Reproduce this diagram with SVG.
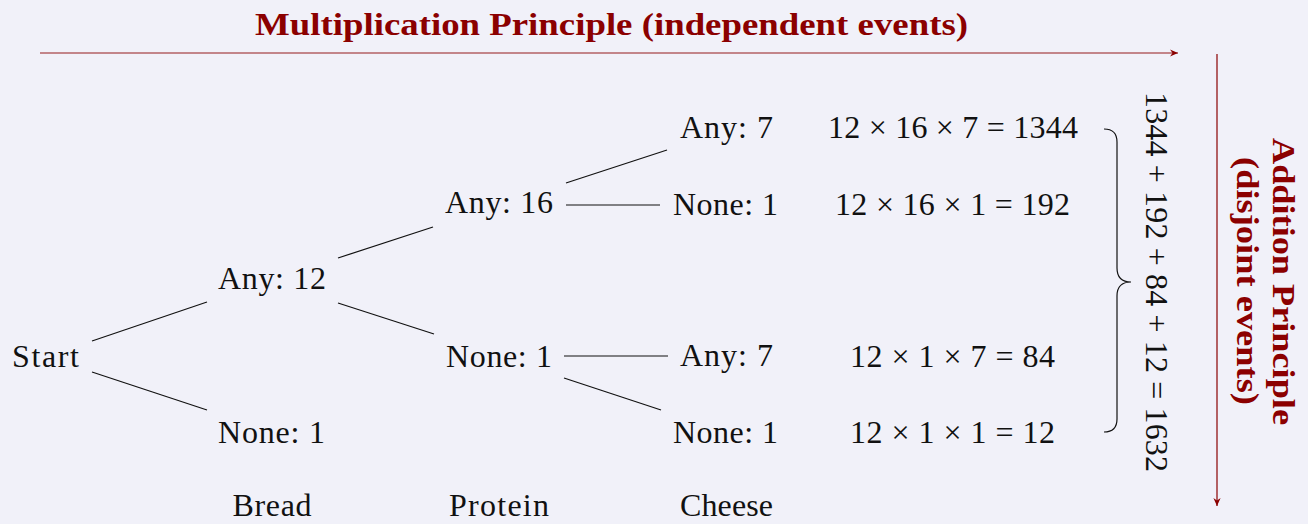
<svg xmlns="http://www.w3.org/2000/svg" width="1308" height="524" viewBox="0 0 1308 524">
<style>
  .t { font-family: "Liberation Serif", "Times New Roman", serif; font-size: 32px; fill: #111; text-anchor: middle; }
  .h { font-family: "Liberation Serif", "Times New Roman", serif; font-size: 31px; font-weight: bold; fill: #8b0000; text-anchor: middle; }
  .e { stroke: #111; stroke-width: 1.2; fill: none; }
</style>
<defs>
  <marker id="ah" viewBox="-9 -5 10 10" refX="0" refY="0" markerWidth="10" markerHeight="10" markerUnits="userSpaceOnUse" orient="auto">
    <path d="M0,0 L-8,-3.6 L-5.5,0 L-8,3.6 Z" fill="#8b0000"/>
  </marker>
</defs>
<rect x="0" y="0" width="1308" height="524" fill="#f1f1f9"/>

<g id="mult-principle">
  <line x1="40" y1="53" x2="1178" y2="53" stroke="#8b0000" stroke-opacity="0.6" stroke-width="1.6" marker-end="url(#ah)"/>
  <text class="h" x="611.5" y="35" textLength="713" lengthAdjust="spacingAndGlyphs">Multiplication Principle (independent events)</text>
</g>

<g id="add-principle">
  <line x1="1217" y1="54" x2="1217" y2="506" stroke="#8b0000" stroke-width="1.2" marker-end="url(#ah)"/>
  <text class="h" transform="translate(1273,281.5) rotate(90)" textLength="287" lengthAdjust="spacingAndGlyphs">Addition Principle</text>
  <text class="h" transform="translate(1237,281) rotate(90)" textLength="248" lengthAdjust="spacingAndGlyphs">(disjoint events)</text>
</g>

<g id="connectors">
  <line class="e" x1="92" y1="341" x2="207" y2="302"/>
  <line class="e" x1="92" y1="372" x2="207" y2="410"/>
  <line class="e" x1="338" y1="258" x2="433" y2="227"/>
  <line class="e" x1="338" y1="303" x2="434" y2="334"/>
  <line class="e" x1="566" y1="183" x2="667" y2="150"/>
  <line class="e" x1="566" y1="205" x2="660" y2="205"/>
  <line class="e" x1="564" y1="356" x2="668" y2="356"/>
  <line class="e" x1="564" y1="378" x2="661" y2="410"/>
</g>

<g id="start"><text class="t" x="45.5" y="367" textLength="67" lengthAdjust="spacing">Start</text></g>
<g id="bread-any"><text class="t" x="272" y="289" textLength="108" lengthAdjust="spacing">Any: 12</text></g>
<g id="bread-none"><text class="t" x="271.5" y="443" textLength="107" lengthAdjust="spacing">None: 1</text></g>
<g id="protein-any"><text class="t" x="499" y="213" textLength="108" lengthAdjust="spacing">Any: 16</text></g>
<g id="protein-none"><text class="t" x="499" y="367" textLength="106" lengthAdjust="spacing">None: 1</text></g>
<g id="cheese-any-1"><text class="t" x="726.5" y="138" textLength="93" lengthAdjust="spacing">Any: 7</text></g>
<g id="cheese-none-1"><text class="t" x="725.5" y="215" textLength="105" lengthAdjust="spacing">None: 1</text></g>
<g id="cheese-any-2"><text class="t" x="726.5" y="366" textLength="93" lengthAdjust="spacing">Any: 7</text></g>
<g id="cheese-none-2"><text class="t" x="725.5" y="443" textLength="105" lengthAdjust="spacing">None: 1</text></g>

<g id="products">
  <text class="t" x="953" y="138" textLength="250" lengthAdjust="spacing">12 × 16 × 7 = 1344</text>
  <text class="t" x="952.5" y="215" textLength="235" lengthAdjust="spacing">12 × 16 × 1 = 192</text>
  <text class="t" x="952.5" y="367" textLength="205" lengthAdjust="spacing">12 × 1 × 7 = 84</text>
  <text class="t" x="952.5" y="443" textLength="205" lengthAdjust="spacing">12 × 1 × 1 = 12</text>
</g>

<g id="sum">
  <path class="e" d="M1104,129 Q1117,129 1117,142 L1117,268 Q1117,282 1131,282 Q1117,282 1117,296 L1117,419 Q1117,432 1104,432"/>
  <text class="t" transform="translate(1146,282) rotate(90)" textLength="380" lengthAdjust="spacing">1344 + 192 + 84 + 12 = 1632</text>
</g>

<g id="labels">
  <text class="t" x="272" y="516" textLength="79" lengthAdjust="spacing">Bread</text>
  <text class="t" x="499" y="516" textLength="100" lengthAdjust="spacing">Protein</text>
  <text class="t" x="726.5" y="516" textLength="93" lengthAdjust="spacing">Cheese</text>
</g>
</svg>
